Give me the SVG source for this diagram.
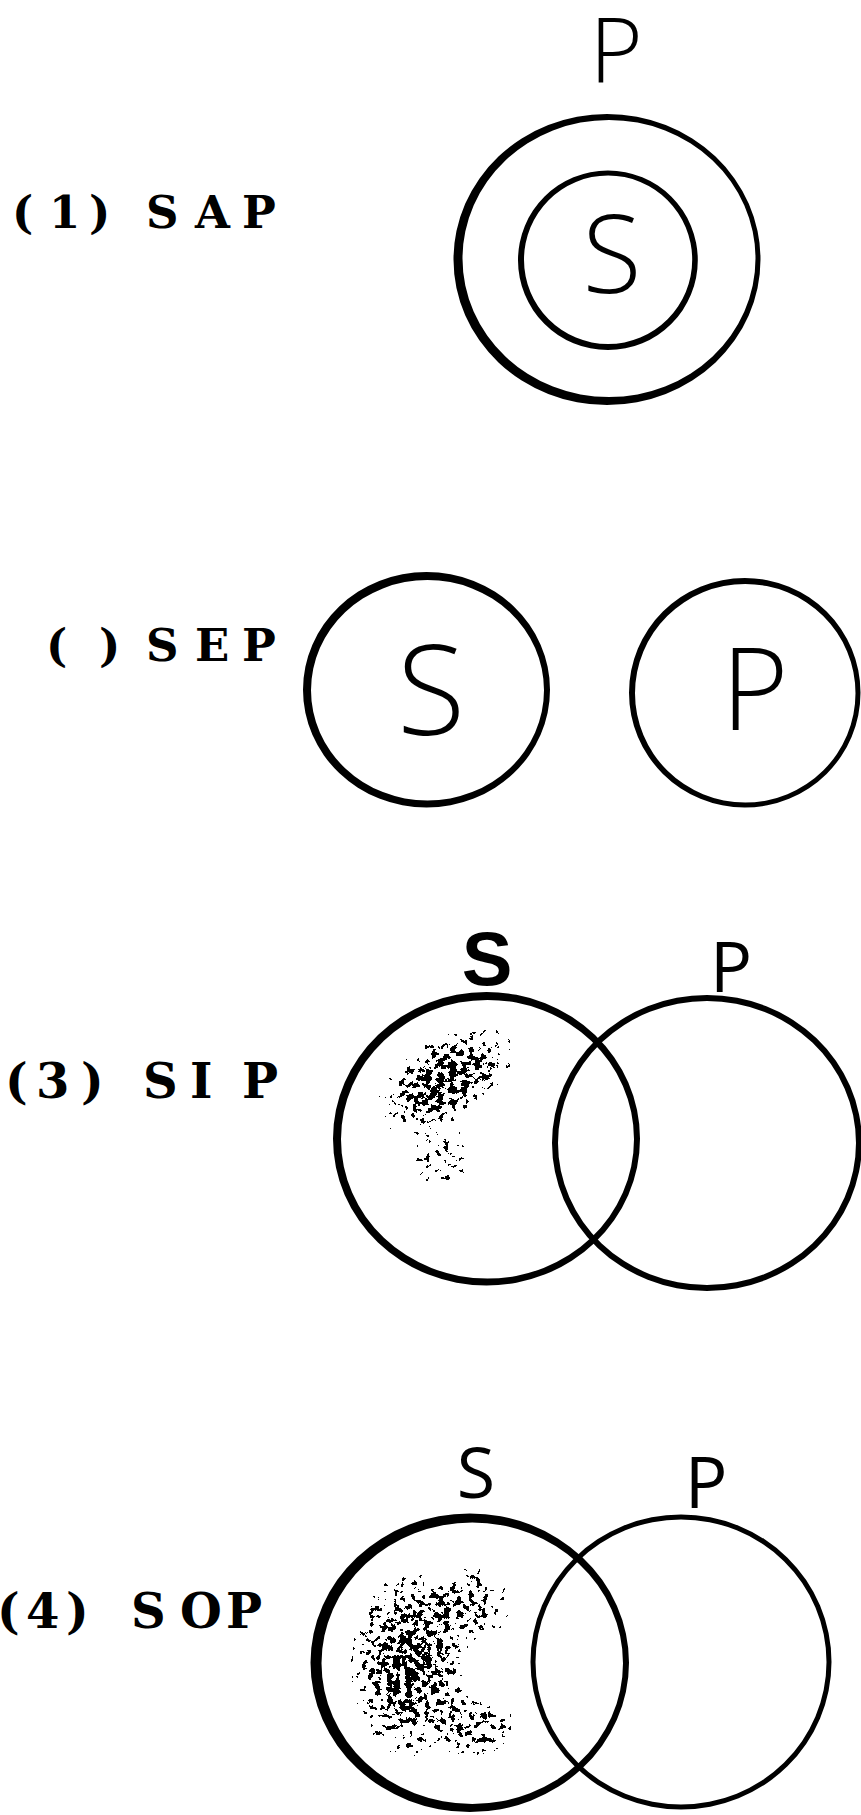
<svg xmlns="http://www.w3.org/2000/svg" width="861" height="1815" viewBox="0 0 861 1815">
  <style>
    .ring { fill: #000; fill-rule: evenodd; stroke: none; }
    .lbl { font-family: "DejaVu Serif", "Liberation Serif", serif; font-weight: bold; fill: #000; }
    .hand { font-family: "Open Sans", "Liberation Sans", sans-serif; font-weight: 300; fill: #000; text-anchor: middle; }
    .hand4 { font-family: "Open Sans", "Liberation Sans", sans-serif; font-weight: 400; fill: #000; text-anchor: middle; }
    .bold { font-family: "Liberation Sans", Arial, sans-serif; font-weight: bold; fill: #000; text-anchor: middle; }
  </style>
  <defs>
    <filter id="stipple" x="-15%" y="-15%" width="130%" height="130%" color-interpolation-filters="sRGB">
      <feTurbulence type="fractalNoise" baseFrequency="0.16" numOctaves="3" seed="11" result="noise"/>
      <feColorMatrix in="noise" type="matrix" values="0 0 0 0 0  0 0 0 0 0  0 0 0 0 0  1 0 0 0 0" result="na"/>
      <feComposite in="na" in2="SourceAlpha" operator="arithmetic" k1="0" k2="2" k3="1" k4="-1" result="m"/>
      <feComponentTransfer in="m" result="dots">
        <feFuncA type="discrete" tableValues="0 1"/>
      </feComponentTransfer>
      <feComponentTransfer in="SourceAlpha" result="mask">
        <feFuncA type="discrete" tableValues="0 1 1 1 1 1 1 1 1 1 1 1 1 1 1 1 1 1 1 1"/>
      </feComponentTransfer>
      <feComposite in="dots" in2="mask" operator="in"/>
    </filter>
    <radialGradient id="shade">
      <stop offset="0" stop-color="#000" stop-opacity="0.62"/>
      <stop offset="0.5" stop-color="#000" stop-opacity="0.45"/>
      <stop offset="1" stop-color="#000" stop-opacity="0"/>
    </radialGradient>
  </defs>
  <rect x="0" y="0" width="861" height="1815" fill="#fff"/>

  <!-- (1) SAP -->
  <g id="label-1">
    <text class="lbl" font-size="45" x="12 49 89 120 146 195 242" y="228">(1) SAP</text>
  </g>
  <g id="sap-P">
    <path class="ring" d="M453.5,259.5 a153.5,145.5 0 1 0 307,0 a153.5,145.5 0 1 0 -307,0Z M462.5,258.5 a146.5,138.5 0 1 0 293,0 a146.5,138.5 0 1 0 -293,0Z"/>
    <text class="hand" font-size="91" x="616" y="83">P</text>
  </g>
  <g id="sap-S">
    <path class="ring" d="M518,260.25 a89.9,89.75 0 1 0 179.8,0 a89.9,89.75 0 1 0 -179.8,0Z M524,259.75 a84.1,84.25 0 1 0 168.2,0 a84.1,84.25 0 1 0 -168.2,0Z"/>
    <text class="hand" font-size="108" x="612" y="293">S</text>
  </g>

  <!-- ( )SEP -->
  <g id="label-2">
    <text class="lbl" font-size="45" x="46 80 99 146 195 242" y="661">( )SEP</text>
  </g>
  <g id="sep-S">
    <path class="ring" d="M303,689.75 a123.5,117.75 0 1 0 247,0 a123.5,117.75 0 1 0 -247,0Z M311,690.25 a116.5,110.25 0 1 0 233,0 a116.5,110.25 0 1 0 -233,0Z"/>
    <text class="hand" font-size="125" x="431" y="735">S</text>
  </g>
  <g id="sep-P">
    <path class="ring" d="M629,692.75 a115.75,114.75 0 1 0 231.5,0 a115.75,114.75 0 1 0 -231.5,0Z M635,693.25 a110.25,109.25 0 1 0 220.5,0 a110.25,109.25 0 1 0 -220.5,0Z"/>
    <text class="hand" font-size="115" x="755" y="730">P</text>
  </g>

  <!-- (3) SIP -->
  <g id="label-3">
    <text class="lbl" font-size="48" x="5 36 81 120 143 190 242" y="1098">(3) SIP</text>
  </g>
  <g id="sip-S">
    <g filter="url(#stipple)">
      <ellipse cx="445" cy="1080" rx="80" ry="42" transform="rotate(-32 445 1080)" fill="url(#shade)"/>
      <ellipse cx="440" cy="1155" rx="32" ry="42" fill="url(#shade)" opacity="0.35"/>
    </g>
    <path class="ring" d="M333,1138.75 a153.5,146.75 0 1 0 307,0 a153.5,146.75 0 1 0 -307,0Z M341,1139.25 a146.5,139.25 0 1 0 293,0 a146.5,139.25 0 1 0 -293,0Z"/>
    <text class="bold" font-size="76" x="487" y="985">S</text>
  </g>
  <g id="sip-P">
    <path class="ring" d="M552,1143 a155,148 0 1 0 310,0 a155,148 0 1 0 -310,0Z M558,1143 a149,142 0 1 0 298,0 a149,142 0 1 0 -298,0Z"/>
    <text class="hand4" font-size="70" x="731" y="992">P</text>
  </g>

  <!-- (4) SOP -->
  <g id="label-4">
    <text class="lbl" font-size="48" x="-3 26 66 100 131 180 226" y="1628">(4) SOP</text>
  </g>
  <g id="sop-S">
    <g filter="url(#stipple)">
      <ellipse cx="410" cy="1665" rx="62" ry="98" fill="url(#shade)"/>
      <ellipse cx="465" cy="1605" rx="48" ry="42" fill="url(#shade)" opacity="0.7"/>
      <ellipse cx="470" cy="1726" rx="48" ry="32" fill="url(#shade)" opacity="0.7"/>
    </g>
    <path class="ring" d="M310.5,1662.75 a159.25,149.25 0 1 0 318.5,0 a159.25,149.25 0 1 0 -318.5,0Z M321.5,1663.25 a150.75,140.75 0 1 0 301.5,0 a150.75,140.75 0 1 0 -301.5,0Z"/>
    <text class="hand4" font-size="70" x="476" y="1498">S</text>
  </g>
  <g id="sop-P">
    <path class="ring" d="M530.5,1662 a150.5,147.5 0 1 0 301,0 a150.5,147.5 0 1 0 -301,0Z M535.5,1662 a145.5,142.5 0 1 0 291,0 a145.5,142.5 0 1 0 -291,0Z"/>
    <text class="hand4" font-size="71" x="706" y="1508">P</text>
  </g>
</svg>
